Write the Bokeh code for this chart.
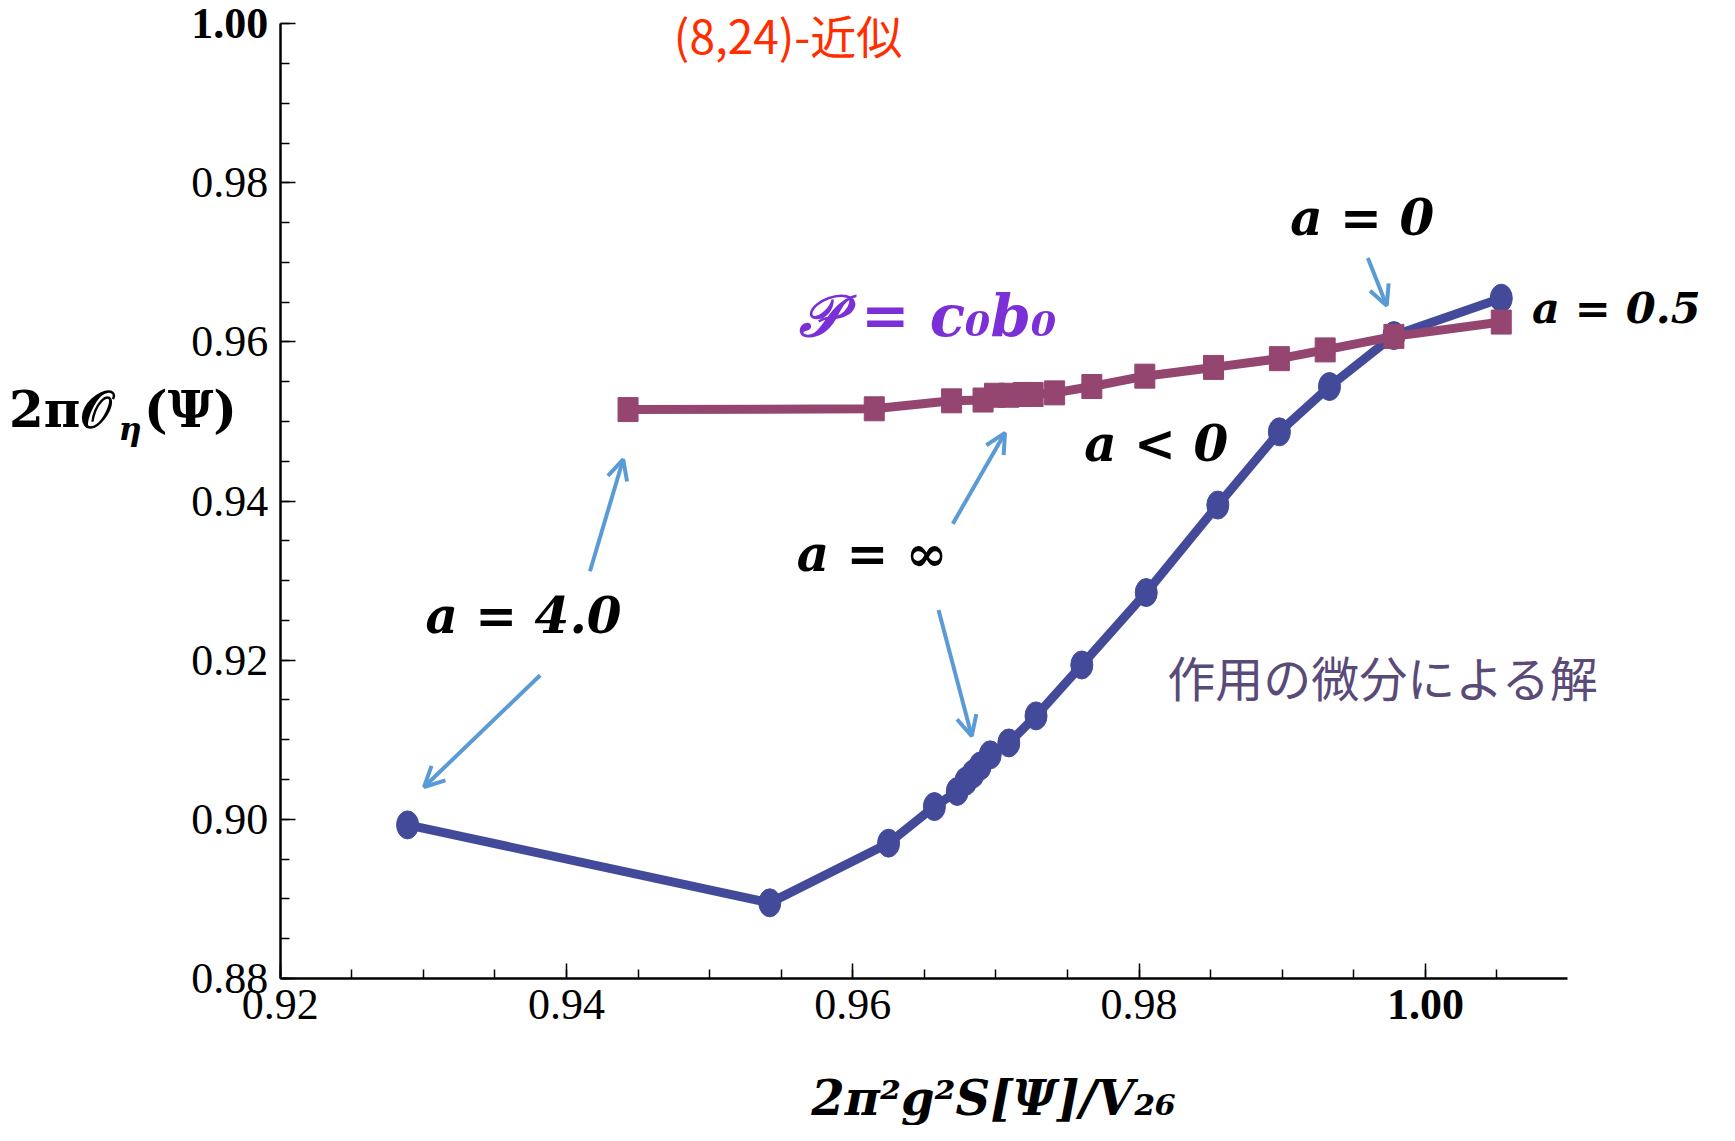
from bokeh.plotting import figure
from bokeh.models import Label, Arrow, OpenHead, SingleIntervalTicker, PrintfTickFormatter, Range1d
from bokeh.embed import file_html
from bokeh.resources import INLINE

# ---- data: action-derivative solution (blue circles) ----
blue_x = [0.9289, 0.9542, 0.9625, 0.9657, 0.9673, 0.9679, 0.9684, 0.9689, 0.9696,
          0.9709, 0.9728, 0.9760, 0.9805, 0.9855, 0.9898, 0.9933, 0.9978, 1.0053]
blue_y = [0.8993, 0.8895, 0.8970, 0.9016, 0.9035, 0.9048, 0.9057, 0.9067, 0.9081,
          0.9096, 0.9130, 0.9194, 0.9285, 0.9395, 0.9487, 0.9544, 0.9608, 0.9655]

# ---- data: P = c0 b0 (purple squares) ----
purple_x = [0.9443, 0.9615, 0.9669, 0.9691, 0.9699, 0.9709, 0.9719, 0.9726, 0.9741,
            0.9767, 0.9804, 0.9852, 0.9898, 0.9930, 0.9978, 1.0053]
purple_y = [0.9515, 0.9516, 0.9526, 0.9527, 0.9533, 0.9533, 0.9534, 0.9534, 0.9536,
            0.9544, 0.9557, 0.9568, 0.9579, 0.9590, 0.9607, 0.9625]

# axis extents (the drawn axes) and the visible window around them
x_axis_bounds = (0.92, 1.0099)
y_axis_bounds = (0.88, 1.00)
view_x = (0.900462, 1.020266)
view_y = (0.861516, 1.002917)
tick_interval = 0.02

# annotation texts (text, x, y, align, size)
math_labels = [
    ("a = 0", 0.99559, 0.97569, "center", "50px"),
    ("a = 0.5", 1.00745, 0.96428, "left", "43px"),
    ("a < 0", 0.98120, 0.94718, "center", "50px"),
    ("a = \u221e", 0.96135, 0.93341, "center", "50px"),
    ("a = 4.0", 0.93700, 0.92562, "center", "50px"),
]
# arrows (x_start, y_start, x_end, y_end)
arrows = [
    (0.93816, 0.91811, 0.93005, 0.90406),
    (0.94164, 0.93118, 0.94396, 0.94523),
    (0.96699, 0.93716, 0.97063, 0.94857),
    (0.96599, 0.92631, 0.96831, 0.91046),
    (0.99598, 0.97054, 0.99730, 0.96456),
]

BLUE = "#434A9A"
PURPLE = "#944670"
ARROW = "#5B9BD5"

p = figure(width=1715, height=1125, output_backend="svg", toolbar_location=None,
           x_range=Range1d(*view_x), y_range=Range1d(*view_y),
           min_border_left=0, min_border_right=0, min_border_top=0, min_border_bottom=0)
p.outline_line_color = None
p.xgrid.visible = False
p.ygrid.visible = False
p.background_fill_color = "white"

p.xaxis.fixed_location = y_axis_bounds[0]
p.yaxis.fixed_location = x_axis_bounds[0]
p.xaxis.bounds = x_axis_bounds
p.yaxis.bounds = y_axis_bounds

for ax in (p.xaxis, p.yaxis):
    ax.ticker = SingleIntervalTicker(interval=tick_interval, num_minor_ticks=4)
    ax.formatter = PrintfTickFormatter(format="%.2f")
    ax.axis_line_width = 2.5
    ax.axis_line_color = "black"
    ax.major_tick_in = 15
    ax.major_tick_out = 0
    ax.minor_tick_in = 9
    ax.minor_tick_out = 0
    ax.major_tick_line_width = 1.5
    ax.minor_tick_line_width = 1.5
    ax.major_tick_line_color = "black"
    ax.minor_tick_line_color = "black"
    ax.major_label_text_font = "Liberation Serif"
    ax.major_label_text_font_size = "44px"
    ax.major_label_text_color = "black"
    ax.major_label_standoff = 12
    ax.major_label_overrides = {1.0: ""}

# bold 1.00 tick labels
p.add_layout(Label(x=1.00, y=y_axis_bounds[0], text="1.00", text_font="Liberation Serif",
                   text_font_style="bold", text_font_size="44px", text_align="center",
                   text_baseline="top", y_offset=-12, text_color="black"))
p.add_layout(Label(x=x_axis_bounds[0], y=1.00, text="1.00", text_font="Liberation Serif",
                   text_font_style="bold", text_font_size="44px", text_align="right",
                   text_baseline="middle", x_offset=-12, text_color="black"))

# series
p.line(blue_x, blue_y, line_width=9, color=BLUE)
p.ellipse(blue_x, blue_y, width=22, height=28, width_units="screen", height_units="screen",
          fill_color=BLUE, line_color=BLUE)
p.line(purple_x, purple_y, line_width=9, color=PURPLE)
p.rect(purple_x, purple_y, width=20, height=24, width_units="screen", height_units="screen",
       fill_color=PURPLE, line_color=PURPLE)

# arrows
for xs, ys, xe, ye in arrows:
    p.add_layout(Arrow(x_start=xs, y_start=ys, x_end=xe, y_end=ye, line_color=ARROW, line_width=4,
                       end=OpenHead(size=20, line_color=ARROW, line_width=4)))

# math annotations
for t, x, y, al, fs in math_labels:
    p.add_layout(Label(x=x, y=y, text=t, text_font="DejaVu Serif", text_font_style="bold italic",
                       text_font_size=fs, text_align=al, text_baseline="middle", text_color="black"))

p.add_layout(Label(x=0.96522, y=0.96331, text="\U0001D4AB = c\u2080b\u2080", text_font="DejaVu Serif",
                   text_font_style="bold italic", text_font_size="58px", text_align="center",
                   text_baseline="middle", text_color="#7B2FD6"))

p.add_layout(Label(x=0.99706, y=0.91797, text="作用の微分による解", text_font="Noto Sans CJK JP",
                   text_font_size="48px", text_align="center", text_baseline="middle",
                   text_color="#5A4A78"))

p.add_layout(Label(x=0.95548, y=view_y[1], text="(8,24)-近似", text_font="Noto Sans CJK JP",
                   text_font_size="46px", text_align="center", text_baseline="top",
                   text_color="#FF2D00"))

# axis titles
p.add_layout(Label(x=0.96985, y=0.86500, text="2\u03c0\u00b2g\u00b2S[\u03a8]/V\u2082\u2086",
                   text_font="DejaVu Serif", text_font_style="bold italic", text_font_size="48px",
                   text_align="center", text_baseline="middle", text_color="black"))
p.add_layout(Label(x=0.90106, y=0.95149, text="2\u03c0\U0001D4AA", text_font="DejaVu Serif",
                   text_font_style="bold", text_font_size="50px", text_align="left",
                   text_baseline="middle", text_color="black"))
p.add_layout(Label(x=0.90871, y=0.95149, text="\u03b7", text_font="DejaVu Serif",
                   text_font_style="bold italic", text_font_size="32px", text_align="left",
                   text_baseline="top", text_color="black"))
p.add_layout(Label(x=0.91049, y=0.95149, text="(\u03a8)", text_font="DejaVu Serif",
                   text_font_style="bold", text_font_size="50px", text_align="left",
                   text_baseline="middle", text_color="black"))

open("out.html", "w").write(file_html(p, INLINE))
